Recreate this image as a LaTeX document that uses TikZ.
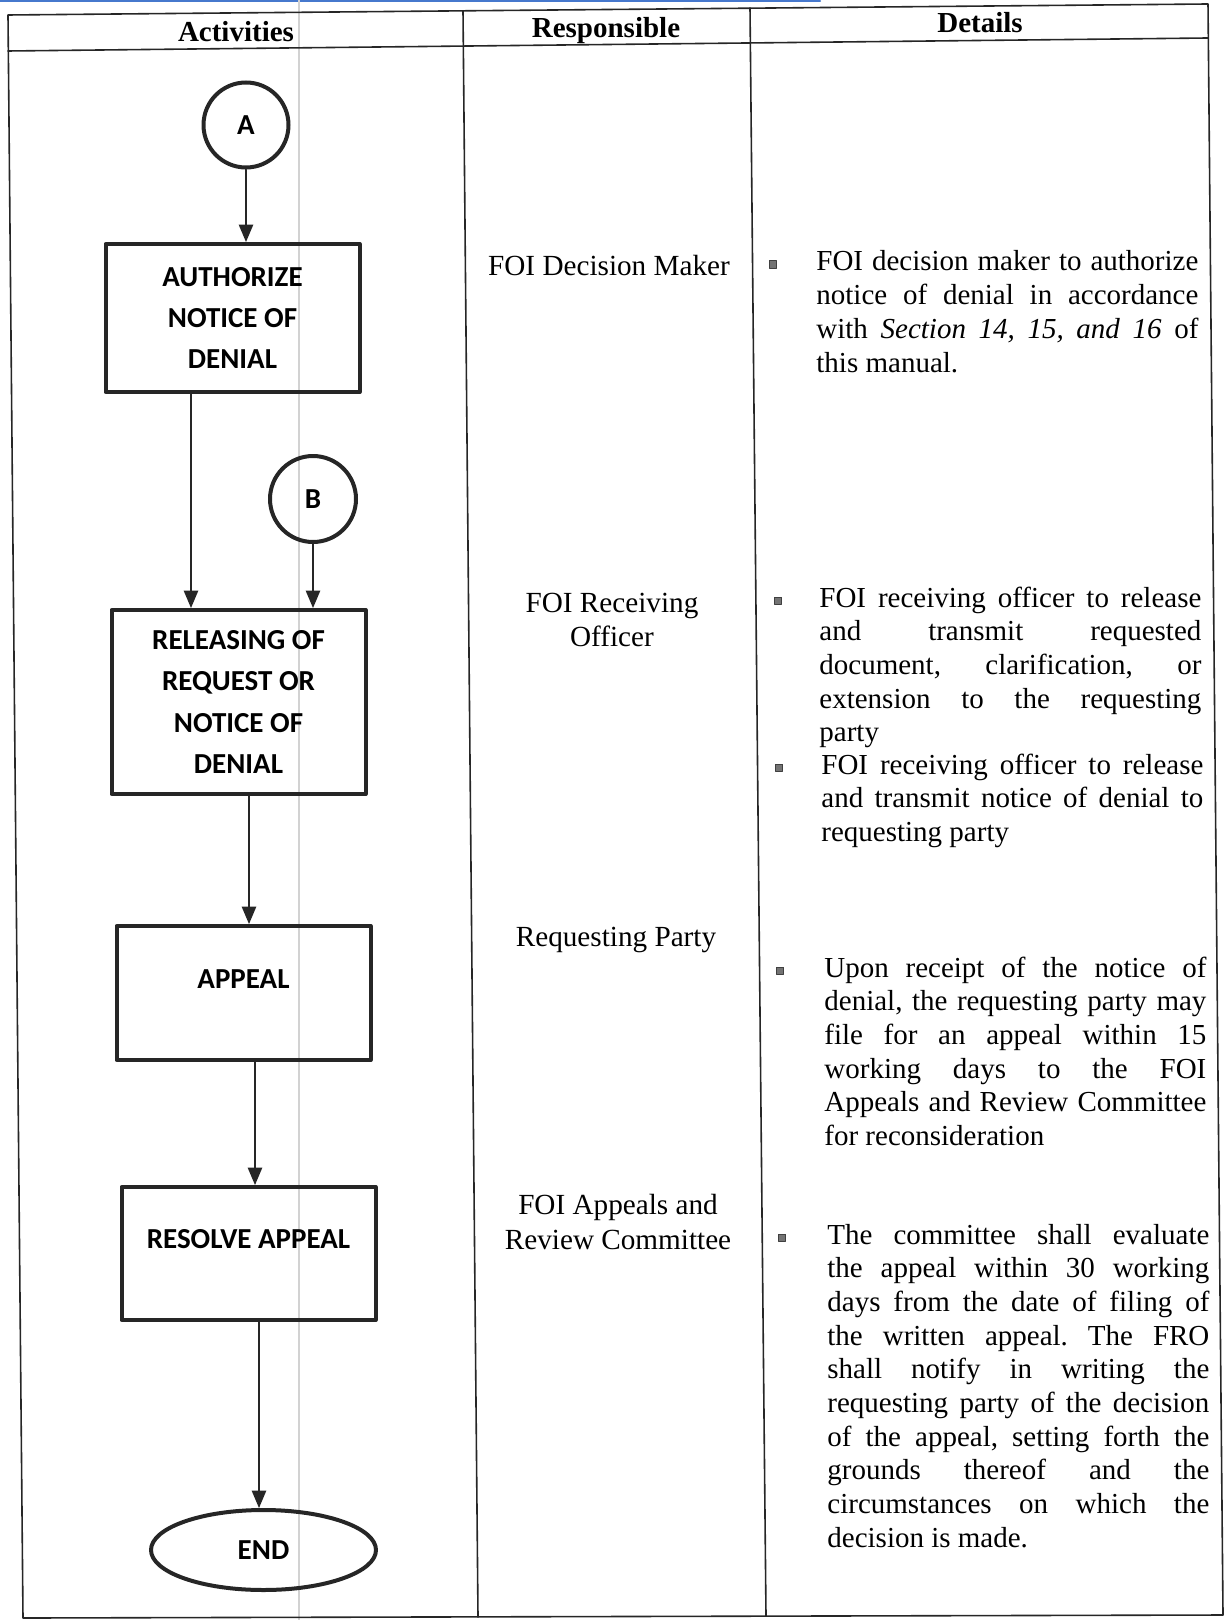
\documentclass[tikz,border=0pt]{standalone}
\usepackage{fontspec}
\setmainfont{Liberation Serif}
\newfontfamily\boxfont{Carlito}
\usetikzlibrary{arrows}
\usetikzlibrary{shapes.geometric}

\definecolor{scanblue}{RGB}{70,120,205}
\newlength\detw
\setlength\detw{191pt}
\newcommand\jl[1]{\hbox to\detw{\frenchspacing\spaceskip=.25em plus 1fil minus .08em\relax#1}}
\newcommand\lastl[1]{\hbox{\frenchspacing#1}}

\begin{document}
\begin{tikzpicture}[line cap=round,line join=round,>=triangle 45,x=0.5pt,y=-0.5pt,
		tabline/.style={line width=0.8pt,black!85},
		box/.style={draw=black!85,line width=2pt,minimum width=127pt,inner sep=0pt,align=center,font=\boxfont\bfseries\fontsize{14.5}{20.7}\selectfont},
		con/.style={circle,draw=black!85,line width=2pt,minimum size=42.5pt,inner sep=0pt,font=\boxfont\bfseries\fontsize{14.5}{17}\selectfont},
		term/.style={ellipse,draw=black!85,line width=2pt,inner sep=0pt,font=\boxfont\bfseries\fontsize{14.5}{17}\selectfont},
		flow/.style={->,line width=1pt,black!85},
		head/.style={anchor=base,inner sep=0pt,font=\bfseries\fontsize{14.5}{17}\selectfont},
		resp/.style={inner sep=0pt,align=center,font=\fontsize{14.6}{17.2}\selectfont},
		detail/.style={anchor=base west,inner sep=0pt,font=\fontsize{14.5}{16.85}\selectfont},
		bul/.style={rectangle,fill=black!55,draw=black!75,line width=0.4pt,minimum size=3.6pt,inner sep=0pt}]
				\useasboundingbox (0,0) rectangle (1225,1620);
				
				\draw[line width=1pt,scanblue] (0,1) -- (820,1);
				\draw[line width=0.8pt,gray!35] (299,0) -- (299,1620);
				
				\draw[tabline] (8,15) -- (1208,4) -- (1223,1615) -- (23,1618) -- cycle;
				\draw[tabline] (8,51) -- (1208,38);
				\draw[tabline] (463,11) -- (478,1617);
				\draw[tabline] (750,8) -- (766,1616);
				
				\node[head] (hact) at (236,42) {Activities};
				\node[head] (hresp) at (606,38) {Responsible};
				\node[head] (hdet) at (980,33) {Details};
				
				\node[con] (conA) at (246,125) {A};
				\node[box,minimum height=74pt] (authorize) at (232.5,318) {AUTHORIZE\\NOTICE OF\\DENIAL};
				\node[con,minimum size=43pt] (conB) at (313,499) {B};
				\node[box,minimum height=92pt] (releasing) at (238.5,702) {RELEASING OF\\REQUEST OR\\NOTICE OF\\DENIAL};
				\node[box,minimum height=67pt,text depth=14pt] (appeal) at (243.5,993) {APPEAL};
				\node[box,minimum height=66.5pt,text depth=15pt] (resolve) at (248.5,1253.5) {RESOLVE APPEAL};
				\node[term,minimum width=112.5pt,minimum height=40pt] (done) at (263.5,1550) {END};
				
				\draw[flow] (conA.south) -- (conA.south |- authorize.north);
				\draw[flow] ([xshift=-20.75pt]authorize.south) -- ([xshift=-20.75pt]authorize.south |- releasing.north);
				\draw[flow] (conB.south) -- (conB.south |- releasing.north);
				\draw[flow] ([xshift=5.25pt]releasing.south) -- ([xshift=5.25pt]releasing.south |- appeal.north);
				\draw[flow] ([xshift=5.75pt]appeal.south) -- ([xshift=5.75pt]appeal.south |- resolve.north);
				\draw[flow] ([xshift=5.25pt]resolve.south) -- ([xshift=5.25pt]resolve.south |- done.north);
				
				\node[resp,anchor=base] (r1) at (609,276) {FOI Decision Maker};
				\node[resp] (r2) at (612,620) {FOI Receiving\\Officer};
				\node[resp,anchor=base] (r3) at (616,946) {Requesting Party};
				\node[resp] (r4) at (618,1222) {FOI Appeals and\\Review Committee};
				
				\node[bul] (b1) at (773,264.5) {};
				\node[detail] (d1) at (816,271) {\vtop{\jl{FOI decision maker to authorize}\jl{notice of denial in accordance}\jl{with \textit{Section 14, 15, and 16} of}\lastl{this manual.}}};
				
				\node[bul] (b2) at (778,600.5) {};
				\node[detail] (d2) at (819,607) {\vtop{\jl{FOI receiving officer to release}\jl{and transmit requested}\jl{document, clarification, or}\jl{extension to the requesting}\lastl{party}}};
				
				\node[bul] (b3) at (779,767.5) {};
				\node[detail] (d3) at (821,774) {\vtop{\jl{FOI receiving officer to release}\jl{and transmit notice of denial to}\lastl{requesting party}}};
				
				\node[bul] (b4) at (780,970.5) {};
				\node[detail] (d4) at (824,977) {\vtop{\jl{Upon receipt of the notice of}\jl{denial, the requesting party may}\jl{file for an appeal within 15}\jl{working days to the FOI}\jl{Appeals and Review Committee}\lastl{for reconsideration}}};
				
				\node[bul] (b5) at (782,1237.5) {};
				\node[detail] (d5) at (827,1244) {\vtop{\jl{The committee shall evaluate}\jl{the appeal within 30 working}\jl{days from the date of filing of}\jl{the written appeal. The FRO}\jl{shall notify in writing the}\jl{requesting party of the decision}\jl{of the appeal, setting forth the}\jl{grounds thereof and the}\jl{circumstances on which the}\lastl{decision is made.}}};
			\end{tikzpicture}
\end{document}
